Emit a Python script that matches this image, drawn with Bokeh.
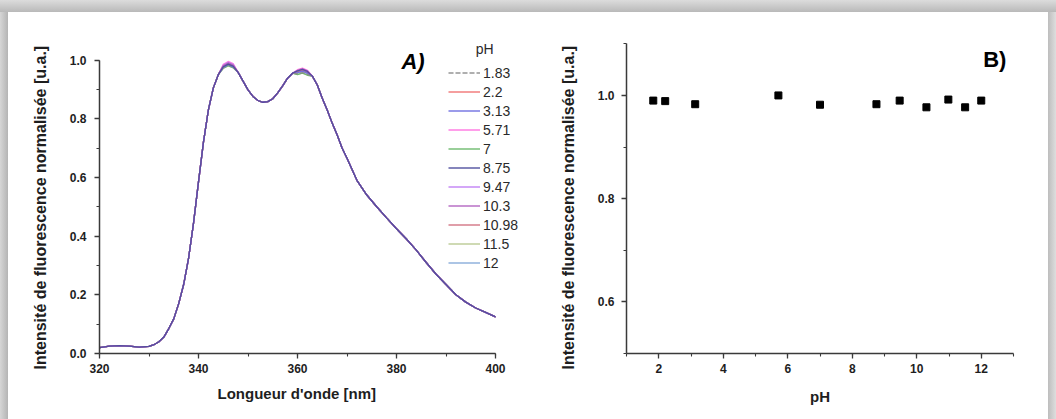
from bokeh.plotting import figure
from bokeh.layouts import row, column
from bokeh.models import (Range1d, SingleIntervalTicker, Legend, LegendItem, Label,
                          PrintfTickFormatter, Title, Div)
from bokeh.embed import file_html
from bokeh.resources import INLINE

# ---------------- Panel A data: normalised fluorescence spectra ----------------
wavelength_rise = [320, 322, 324, 326, 328, 330, 331, 332, 333, 334, 335, 336, 337,
                   338, 339, 340, 341, 342, 343, 344]
intensity_rise = [0.020, 0.025, 0.027, 0.025, 0.022, 0.024, 0.030, 0.040, 0.056, 0.085,
                  0.118, 0.170, 0.235, 0.325, 0.445, 0.585, 0.720, 0.830, 0.905, 0.950]

wavelength_peak1 = [345, 346, 347]

wavelength_mid = [348, 349, 350, 351, 352, 353, 354, 355, 356, 357, 358, 359]
intensity_mid = [0.958, 0.928, 0.898, 0.876, 0.862, 0.856, 0.858, 0.868, 0.888, 0.912,
                 0.938, 0.955]

wavelength_peak2 = [360, 361, 362]

wavelength_tail = [363, 364, 365, 366, 367, 368, 369, 370, 372, 374, 376, 378, 380, 382,
                   384, 386, 388, 390, 392, 394, 396, 398, 400]
intensity_tail = [0.945, 0.915, 0.870, 0.830, 0.785, 0.745, 0.700, 0.665, 0.590, 0.540,
                  0.500, 0.462, 0.425, 0.390, 0.352, 0.310, 0.270, 0.235, 0.200, 0.175,
                  0.155, 0.140, 0.125]

ph_labels = ["1.83", "2.2", "3.13", "5.71", "7", "8.75", "9.47", "10.3", "10.98", "11.5", "12"]

peak1_values = [
    [0.975, 0.984, 0.977],
    [0.980, 0.990, 0.983],
    [0.974, 0.983, 0.976],
    [0.985, 0.995, 0.988],
    [0.972, 0.981, 0.974],
    [0.977, 0.986, 0.979],
    [0.982, 0.992, 0.985],
    [0.980, 0.990, 0.983],
    [0.978, 0.988, 0.981],
    [0.971, 0.980, 0.973],
    [0.973, 0.982, 0.975],
]
peak2_values = [
    [0.953, 0.957, 0.951],
    [0.960, 0.965, 0.958],
    [0.957, 0.962, 0.955],
    [0.967, 0.972, 0.965],
    [0.950, 0.955, 0.948],
    [0.963, 0.968, 0.961],
    [0.961, 0.966, 0.959],
    [0.965, 0.970, 0.963],
    [0.960, 0.965, 0.958],
    [0.951, 0.956, 0.949],
    [0.955, 0.960, 0.953],
]

# ---------------- Panel B data: normalised intensity vs pH ----------------
ph_values = [1.83, 2.2, 3.13, 5.71, 7, 8.75, 9.47, 10.3, 10.98, 11.5, 12]
norm_intensity = [0.990, 0.989, 0.983, 1.000, 0.982, 0.983, 0.990, 0.977, 0.992, 0.977, 0.990]

y_title = "Intensité de fluorescence normalisée [u.a.]"

# ---------------- styles ----------------
line_colors = ["#8a8a8a", "#f07070", "#6c6ce0", "#ff70e0", "#68b868", "#4a4a9c",
               "#c07cf4", "#b060c0", "#d07080", "#b8c890", "#84aad8"]
draw_order = [10, 9, 4, 1, 3, 6, 8, 2, 0, 7, 5]
FONT = "Liberation Sans"
AXIS_COLOR = "#3a3a3a"
TEXT_COLOR = "#1e1e1e"


def style_axes(p):
    p.xgrid.grid_line_color = None
    p.ygrid.grid_line_color = None
    p.outline_line_color = None
    p.background_fill_color = "white"
    p.border_fill_color = "white"
    for ax in (p.xaxis[0], p.yaxis[0]):
        ax.axis_line_color = AXIS_COLOR
        ax.axis_line_width = 1.5
        ax.major_tick_line_color = AXIS_COLOR
        ax.minor_tick_line_color = AXIS_COLOR
        ax.major_tick_line_width = 1.3
        ax.minor_tick_line_width = 1.1
        ax.major_tick_out = 5
        ax.major_tick_in = 0
        ax.minor_tick_out = 3
        ax.minor_tick_in = 0
        ax.major_label_text_font = FONT
        ax.major_label_text_font_style = "bold"
        ax.major_label_text_font_size = "12px"
        ax.major_label_text_color = TEXT_COLOR
        ax.major_label_standoff = 5
        ax.axis_label_text_font = FONT
        ax.axis_label_text_font_style = "bold"
        ax.axis_label_text_font_size = "15px"
        ax.axis_label_text_color = TEXT_COLOR


def side_title(text, size, offset, standoff):
    return Title(text=text, align="left", offset=offset, standoff=standoff,
                 text_font=FONT, text_font_size=size, text_font_style="bold",
                 text_color=TEXT_COLOR)


# ---------------- Panel A ----------------
pa = figure(width=520, height=407, output_backend="svg", toolbar_location=None,
            x_range=Range1d(320, 406.06), y_range=Range1d(0, 1.0903),
            min_border_left=91, min_border_right=3, min_border_top=21, min_border_bottom=66)
pa.xaxis.ticker = SingleIntervalTicker(interval=20, num_minor_ticks=2)
pa.yaxis.ticker = SingleIntervalTicker(interval=0.2, num_minor_ticks=2)
pa.xaxis.bounds = (320, 400)
pa.yaxis.bounds = (0, 1.0)
pa.yaxis.formatter = PrintfTickFormatter(format="%.1f")
style_axes(pa)
pa.yaxis.major_label_standoff = 8
pa.add_layout(side_title("Longueur d'onde [nm]", "15px", 118, 14), "below")
pa.add_layout(side_title(y_title, "16px", -16, 35), "left")

renderers = {}
for i in draw_order:
    xs = wavelength_rise + wavelength_peak1 + wavelength_mid + wavelength_peak2 + wavelength_tail
    ys = intensity_rise + peak1_values[i] + intensity_mid + peak2_values[i] + intensity_tail
    renderers[i] = pa.line(xs, ys, line_color=line_colors[i], line_width=1.3, line_alpha=0.9,
                           line_dash="5 2" if i == 0 else "solid")
items = [LegendItem(label=lab, renderers=[renderers[i]]) for i, lab in enumerate(ph_labels)]

legend = Legend(items=items, location=(349, 81))
legend.label_text_font = FONT
legend.label_text_font_size = "14px"
legend.label_text_color = "#2a2a2a"
legend.glyph_width = 32
legend.glyph_height = 19
legend.label_height = 19
legend.spacing = 0
legend.padding = 0
legend.margin = 0
legend.label_standoff = 3
legend.border_line_alpha = 0
legend.background_fill_alpha = 0
pa.add_layout(legend)

pa.add_layout(Label(x=396.0, y=1.039, text="pH", text_font=FONT, text_font_size="14px",
                    text_color="#2a2a2a", text_baseline="middle", text_align="left"))
pa.add_layout(Label(x=381.0, y=0.995, text="A)", text_font=FONT, text_font_size="22px",
                    text_font_style="bold italic", text_color="black",
                    text_baseline="middle", text_align="left"))

# ---------------- Panel B ----------------
pb = figure(width=520, height=407, output_backend="svg", toolbar_location=None,
            x_range=Range1d(1, 13), y_range=Range1d(0.5, 1.12),
            min_border_left=98, min_border_right=35, min_border_top=21, min_border_bottom=66,
            x_axis_label="pH")
pb.xaxis.ticker = SingleIntervalTicker(interval=2, num_minor_ticks=2)
pb.yaxis.ticker = SingleIntervalTicker(interval=0.2, num_minor_ticks=2)
pb.yaxis.bounds = (0.5, 1.1)
pb.yaxis.formatter = PrintfTickFormatter(format="%.1f")
style_axes(pb)
pb.yaxis.major_label_standoff = 7
pb.xaxis.axis_label_standoff = 12
pb.add_layout(side_title(y_title, "16px", -16, 35), "left")

pb.scatter(ph_values, norm_intensity, marker="square", size=7, fill_color="black",
           line_color="black")
pb.add_layout(Label(x=12.06, y=1.07, text="B)", text_font=FONT, text_font_size="22px",
                    text_font_style="bold", text_color="black",
                    text_baseline="middle", text_align="left"))

# ---------------- page frame (grey shadow around the white panel) ----------------
top_band = Div(text="", width=1056, height=12, margin=0,
               styles={"background": "linear-gradient(to bottom, #dcdcdc, #b9b9b9)"})
left_band = Div(text="", width=8, height=407, margin=0,
                styles={"background": "linear-gradient(to right, #d6d6d6, #b4b4b4)"})
right_band = Div(text="", width=8, height=407, margin=0,
                 styles={"background": "linear-gradient(to right, #bdbdbd, #dedede)"})

layout = column(top_band, row(left_band, pa, pb, right_band, spacing=0), spacing=0)
open("out.html", "w").write(file_html(layout, INLINE))
